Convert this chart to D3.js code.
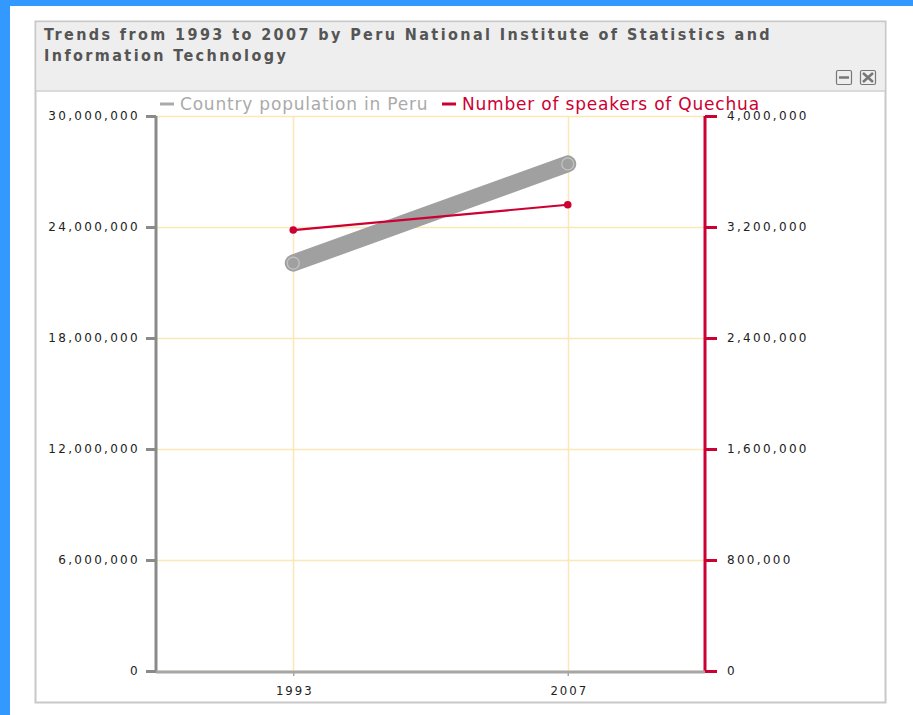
<!DOCTYPE html>
<html>
<head>
<meta charset="utf-8">
<script src="https://cdn.jsdelivr.net/npm/d3@7"></script>
<style>
  body { margin: 0; background: #fff; }
  svg { display: block; }
</style>
</head>
<body>
<svg id="chart" width="913" height="715"></svg>
<script>
// data
const years = ["1993", "2007"];
const population = [22048356, 27412157];
const quechua = [3177938, 3360331];
const leftTicks = [0, 6000000, 12000000, 18000000, 24000000, 30000000];
const rightTicks = [0, 800000, 1600000, 2400000, 3200000, 4000000];

const titleLines = [
    "Trends from 1993 to 2007 by Peru National Institute of Statistics and",
    "Information Technology"
];

const svg = d3.select("#chart");

// blue frame round the page
svg.append("rect").attr("width", 913).attr("height", 715).attr("fill", "#3399ff");
svg.append("rect").attr("x", 10).attr("y", 6).attr("width", 903).attr("height", 709).attr("fill", "#fff");

// panel
svg.append("rect").attr("x", 35.5).attr("y", 21.5).attr("width", 850).attr("height", 681)
    .attr("fill", "#fff").attr("stroke", "#c8c8c8").attr("stroke-width", 2);
svg.append("rect").attr("x", 36.5).attr("y", 22.5).attr("width", 848).attr("height", 68)
    .attr("fill", "#eeeeee");
svg.append("line").attr("x1", 36).attr("x2", 885).attr("y1", 91).attr("y2", 91)
    .attr("stroke", "#cfcfcf").attr("stroke-width", 1.5);

svg.selectAll(".title")
    .data(titleLines)
    .enter()
    .append("text")
    .attr("class", "title")
    .attr("x", 44)
    .attr("y", (d, i) => 40 + i * 21)
    .attr("fill", "#555")
    .attr("font-family", "DejaVu Sans Condensed, DejaVu Sans")
    .attr("font-weight", "bold")
    .attr("font-size", 16)
    .attr("letter-spacing", 2.4)
    .text(d => d);

// window buttons
const btn = svg.append("g").attr("fill", "none").attr("stroke", "#777").attr("stroke-width", 1.2);
btn.append("rect").attr("x", 836.5).attr("y", 70.5).attr("width", 15).attr("height", 14).attr("rx", 1.5);
btn.append("line").attr("x1", 839).attr("x2", 849).attr("y1", 77.5).attr("y2", 77.5).attr("stroke-width", 2.5);
btn.append("rect").attr("x", 860.5).attr("y", 70.5).attr("width", 15).attr("height", 14).attr("rx", 1.5);
btn.append("path").attr("d", "M863,73 L873,82 M873,73 L863,82").attr("stroke-width", 2.5);

// plot area
const plotLeft = 156, plotRight = 705, plotTop = 116, plotBottom = 671;

const x = d3.scalePoint().domain(years).range([plotLeft, plotRight]).padding(0.5);
const yL = d3.scaleLinear().domain([0, 30000000]).range([plotBottom, plotTop]);
const yR = d3.scaleLinear().domain([0, 4000000]).range([plotBottom, plotTop]);

const fmt = d3.format(",");
const gridColor = "#fbe8b8";

// grid
svg.append("g")
    .selectAll("line")
    .data(leftTicks)
    .enter()
    .append("line")
    .attr("x1", plotLeft).attr("x2", plotRight)
    .attr("y1", d => Math.round(yL(d)) + 0.5).attr("y2", d => Math.round(yL(d)) + 0.5)
    .attr("stroke", gridColor).attr("stroke-width", 1.5);

svg.append("g")
    .selectAll("line")
    .data(years)
    .enter()
    .append("line")
    .attr("x1", d => Math.round(x(d)) + 0.5).attr("x2", d => Math.round(x(d)) + 0.5)
    .attr("y1", plotTop).attr("y2", plotBottom)
    .attr("stroke", gridColor).attr("stroke-width", 1.5);

// left axis
const leftAxis = svg.append("g")
    .attr("transform", `translate(${plotLeft},0)`)
    .call(d3.axisLeft(yL).tickValues(leftTicks).tickFormat(fmt).tickSize(10).tickPadding(6));
leftAxis.select(".domain").attr("stroke", "#8a8a8a").attr("stroke-width", 3)
    .attr("d", `M0,${plotTop}V${plotBottom}`);
leftAxis.selectAll(".tick line").attr("stroke", "#8a8a8a").attr("stroke-width", 3);
leftAxis.selectAll(".tick text")
    .attr("fill", "#222")
    .attr("font-family", "DejaVu Sans")
    .attr("font-size", 12)
    .attr("letter-spacing", 2.3);

// right axis
const rightAxis = svg.append("g")
    .attr("transform", `translate(${plotRight},0)`)
    .call(d3.axisRight(yR).tickValues(rightTicks).tickFormat(fmt).tickSize(12).tickPadding(10));
rightAxis.select(".domain").attr("stroke", "#cc0033").attr("stroke-width", 3)
    .attr("d", `M0,${plotTop}V${plotBottom}`);
rightAxis.selectAll(".tick line").attr("stroke", "#cc0033").attr("stroke-width", 3);
rightAxis.selectAll(".tick text")
    .attr("fill", "#222")
    .attr("font-family", "DejaVu Sans")
    .attr("font-size", 12)
    .attr("letter-spacing", 2.3);

// bottom axis
const bottomAxis = svg.append("g")
    .attr("transform", `translate(0,${plotBottom + 1})`)
    .call(d3.axisBottom(x).tickSize(4).tickPadding(10));
bottomAxis.select(".domain").attr("stroke", "#a6a6a6").attr("stroke-width", 3)
    .attr("d", `M${plotLeft},0H${plotRight}`);
bottomAxis.selectAll(".tick line").attr("stroke", "#a6a6a6").attr("stroke-width", 1.5);
bottomAxis.selectAll(".tick text")
    .attr("fill", "#222")
    .attr("font-family", "DejaVu Sans Condensed, DejaVu Sans")
    .attr("font-size", 13)
    .attr("letter-spacing", 2)
    .attr("dx", 1);

// population series: thick gray line with hollow markers
const popLine = d3.line().x((d, i) => x(years[i])).y(d => yL(d));
svg.append("path")
    .datum(population)
    .attr("d", popLine)
    .attr("fill", "none")
    .attr("stroke", "#a0a0a0")
    .attr("stroke-width", 17)
    .attr("stroke-linecap", "round");
svg.selectAll(".popdot")
    .data(population)
    .enter()
    .append("circle")
    .attr("class", "popdot")
    .attr("cx", (d, i) => x(years[i]))
    .attr("cy", d => yL(d))
    .attr("r", 6)
    .attr("fill", "none")
    .attr("stroke", "#c4c4c4")
    .attr("stroke-width", 1.2);

// quechua speakers series
const qLine = d3.line().x((d, i) => x(years[i])).y(d => yR(d));
svg.append("path")
    .datum(quechua)
    .attr("d", qLine)
    .attr("fill", "none")
    .attr("stroke", "#cc0033")
    .attr("stroke-width", 2.2);
svg.selectAll(".qdot")
    .data(quechua)
    .enter()
    .append("circle")
    .attr("class", "qdot")
    .attr("cx", (d, i) => x(years[i]))
    .attr("cy", d => yR(d))
    .attr("r", 3.8)
    .attr("fill", "#cc0033");

// legend
const legendItems = [
    { label: "Country population in Peru", color: "#aaaaaa", x: 160 },
    { label: "Number of speakers of Quechua", color: "#cc0033", x: 442 }
];
const legend = svg.append("g");
legendItems.forEach(item => {
    legend.append("line")
        .attr("x1", item.x).attr("x2", item.x + 14)
        .attr("y1", 104).attr("y2", 104)
        .attr("stroke", item.color).attr("stroke-width", 3);
    legend.append("text")
        .attr("x", item.x + 20)
        .attr("y", 110)
        .attr("fill", item.color)
        .attr("font-family", "DejaVu Sans")
        .attr("font-size", 17)
        .attr("letter-spacing", 0.8)
        .text(item.label);
});
</script>
</body>
</html>
